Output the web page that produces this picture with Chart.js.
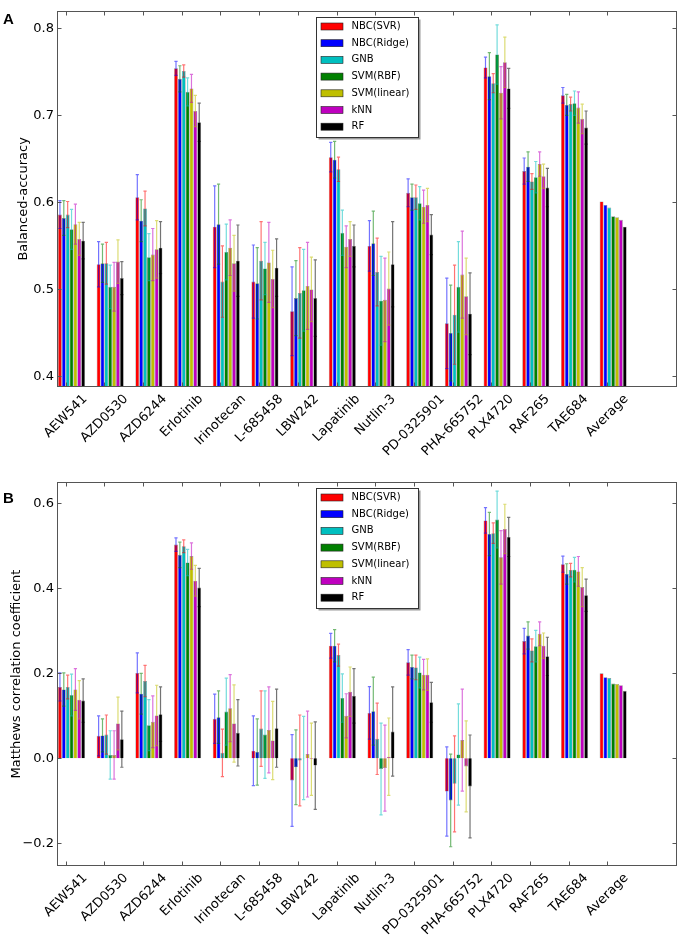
<!DOCTYPE html>
<html>
<head>
<meta charset="utf-8">
<script src="https://cdn.jsdelivr.net/npm/chart.js@4.4.1/dist/chart.umd.min.js"></script>
<style>
body { margin: 0; background: #fff; width: 680px; height: 937px; position: relative; overflow: hidden; }
canvas { position: absolute; left: 0; }
#chartA { top: 0; }
#chartB { top: 470px; }
.panel { position: absolute; left: 3px; font: bold 15px 'Liberation Sans', Arial, sans-serif; line-height: 17px; color: #000; }
</style>
</head>
<body>
<canvas id="chartA" width="680" height="470"></canvas>
<canvas id="chartB" width="680" height="467"></canvas>
<div class="panel" style="top:10px">A</div>
<div class="panel" style="top:489px">B</div>
<script>
var drugs = ['AEW541', 'AZD0530', 'AZD6244', 'Erlotinib', 'Irinotecan', 'L-685458', 'LBW242',
    'Lapatinib', 'Nutlin-3', 'PD-0325901', 'PHA-665752', 'PLX4720', 'RAF265', 'TAE684', 'Average'];
var methods = ['NBC(SVR)', 'NBC(Ridge)', 'GNB', 'SVM(RBF)', 'SVM(linear)', 'kNN', 'RF'];

// balanced accuracy, one array per method
var accNbcSvr   = [0.586, 0.529, 0.606, 0.754, 0.572, 0.509, 0.475, 0.652, 0.550, 0.611, 0.461, 0.755, 0.636, 0.723, 0.601];
var accNbcRidge = [0.582, 0.530, 0.579, 0.742, 0.575, 0.507, 0.490, 0.649, 0.553, 0.606, 0.450, 0.745, 0.641, 0.712, 0.597];
var accGnb      = [0.586, 0.530, 0.593, 0.751, 0.509, 0.533, 0.496, 0.638, 0.520, 0.606, 0.471, 0.737, 0.624, 0.713, 0.594];
var accSvmRbf   = [0.569, 0.503, 0.537, 0.727, 0.543, 0.524, 0.499, 0.565, 0.487, 0.599, 0.503, 0.770, 0.629, 0.714, 0.584];
var accSvmLin   = [0.575, 0.503, 0.540, 0.731, 0.548, 0.531, 0.504, 0.549, 0.488, 0.595, 0.517, 0.726, 0.644, 0.709, 0.583];
var accKnn      = [0.558, 0.532, 0.546, 0.705, 0.530, 0.512, 0.500, 0.558, 0.501, 0.597, 0.492, 0.761, 0.630, 0.696, 0.580];
var accRf       = [0.556, 0.513, 0.548, 0.692, 0.533, 0.525, 0.490, 0.550, 0.529, 0.563, 0.472, 0.731, 0.617, 0.686, 0.572];

var accErrNbcSvr   = [0.016, 0.026, 0.026, 0.008, 0.047, 0.042, 0.051, 0.017, 0.029, 0.016, 0.052, 0.012, 0.015, 0.009, null];
var accErrNbcRidge = [0.020, 0.022, 0.024, 0.015, 0.046, 0.041, 0.043, 0.021, 0.037, 0.015, 0.055, 0.027, 0.017, 0.012, null];
var accErrGnb      = [0.015, 0.024, 0.020, 0.007, 0.041, 0.045, 0.052, 0.014, 0.039, 0.014, 0.057, 0.011, 0.009, 0.008, null];
var accErrSvmRbf   = [0.023, 0.025, 0.027, 0.016, 0.032, 0.030, 0.047, 0.026, 0.051, 0.019, 0.052, 0.034, 0.018, 0.014, null];
var accErrSvmLin   = [0.023, 0.028, 0.030, 0.016, 0.032, 0.046, 0.050, 0.024, 0.048, 0.019, 0.050, 0.030, 0.014, 0.018, null];
var accErrKnn      = [0.019, 0.025, 0.033, 0.018, 0.032, 0.033, 0.037, 0.020, 0.042, 0.019, 0.044, 0.029, 0.014, 0.017, null];
var accErrRf       = [0.021, 0.019, 0.030, 0.022, 0.041, 0.033, 0.044, 0.024, 0.049, 0.023, 0.047, 0.023, 0.022, 0.019, null];

// Matthews correlation coefficient
var mccNbcSvr   = [0.168, 0.053, 0.201, 0.503, 0.093, 0.018, -0.052, 0.265, 0.107, 0.226, -0.078, 0.560, 0.276, 0.457, 0.200];
var mccNbcRidge = [0.162, 0.054, 0.152, 0.479, 0.097, 0.015, -0.021, 0.265, 0.111, 0.215, -0.099, 0.528, 0.289, 0.434, 0.191];
var mccGnb      = [0.168, 0.056, 0.182, 0.499, 0.013, 0.070, -0.005, 0.243, 0.046, 0.214, -0.060, 0.530, 0.254, 0.443, 0.189];
var mccSvmRbf   = [0.149, 0.008, 0.078, 0.461, 0.110, 0.056, 0.001, 0.142, -0.025, 0.202, 0.009, 0.562, 0.264, 0.444, 0.176];
var mccSvmLin   = [0.162, 0.008, 0.086, 0.476, 0.118, 0.067, 0.010, 0.100, -0.023, 0.197, 0.043, 0.473, 0.293, 0.440, 0.175];
var mccKnn      = [0.138, 0.082, 0.101, 0.418, 0.082, 0.042, -0.002, 0.157, 0.004, 0.197, -0.019, 0.540, 0.265, 0.403, 0.172];
var mccRf       = [0.136, 0.045, 0.104, 0.402, 0.060, 0.071, -0.017, 0.147, 0.063, 0.132, -0.066, 0.521, 0.240, 0.384, 0.159];

var mccErrNbcSvr   = [0.033, 0.047, 0.047, 0.016, 0.058, 0.082, 0.108, 0.029, 0.062, 0.030, 0.105, 0.030, 0.030, 0.019, null];
var mccErrNbcRidge = [0.039, 0.039, 0.048, 0.030, 0.062, 0.078, 0.088, 0.038, 0.080, 0.028, 0.109, 0.051, 0.032, 0.024, null];
var mccErrGnb      = [0.028, 0.046, 0.037, 0.015, 0.056, 0.089, 0.107, 0.026, 0.084, 0.029, 0.113, 0.024, 0.027, 0.016, null];
var mccErrSvmRbf   = [0.049, 0.057, 0.060, 0.031, 0.079, 0.103, 0.098, 0.057, 0.108, 0.036, 0.119, 0.067, 0.037, 0.029, null];
var mccErrSvmLin   = [0.049, 0.057, 0.061, 0.031, 0.079, 0.101, 0.101, 0.052, 0.101, 0.036, 0.120, 0.063, 0.028, 0.035, null];
var mccErrKnn      = [0.045, 0.062, 0.071, 0.036, 0.091, 0.092, 0.085, 0.058, 0.091, 0.037, 0.107, 0.058, 0.030, 0.046, null];
var mccErrRf       = [0.051, 0.066, 0.064, 0.045, 0.078, 0.092, 0.103, 0.064, 0.105, 0.047, 0.121, 0.046, 0.045, 0.038, null];

var accTicks = [0.4, 0.5, 0.6, 0.7, 0.8];
var mccTicks = [-0.2, 0.0, 0.2, 0.4, 0.6];

// matplotlib style colours: bar faces and the (shifted) errorbar colour cycle
var barColors = ['#ff0000', '#0000ff', '#00bfbf', '#008000', '#bfbf00', '#bf00bf', '#000000'];
var errColors = ['#0000ff', '#008000', '#ff0000', '#00bfbf', '#bf00bf', '#bfbf00', '#000000'];

var FONT = "'DejaVu Sans', 'Liberation Sans', sans-serif";

var errorBarPlugin = {
    id: 'errorBars',
    afterDatasetsDraw: function (chart) {
        var ctx = chart.ctx, a = chart.chartArea, y = chart.scales.y;
        ctx.save();
        ctx.beginPath();
        ctx.rect(a.left, a.top, a.width, a.height);
        ctx.clip();
        ctx.globalAlpha = 0.55;
        ctx.lineWidth = 1.2;
        chart.data.datasets.forEach(function (ds, k) {
            var meta = chart.getDatasetMeta(k);
            ctx.strokeStyle = ds.errorColor;
            meta.data.forEach(function (bar, i) {
                var e = ds.errors[i];
                if (e == null) return;
                var v = ds.data[i].y;
                var yt = y.getPixelForValue(v + e);
                var yb = y.getPixelForValue(v - e);
                ctx.beginPath();
                ctx.moveTo(bar.x, yt);
                ctx.lineTo(bar.x, yb);
                ctx.moveTo(bar.x - 1.6, yt);
                ctx.lineTo(bar.x + 1.6, yt);
                ctx.moveTo(bar.x - 1.6, yb);
                ctx.lineTo(bar.x + 1.6, yb);
                ctx.stroke();
            });
        });
        ctx.restore();
    }
};

var framePlugin = {
    id: 'frame',
    afterDraw: function (chart) {
        var ctx = chart.ctx, a = chart.chartArea;
        var x = chart.scales.x, y = chart.scales.y;
        ctx.save();
        ctx.strokeStyle = '#555';
        ctx.lineWidth = 1;
        var L = Math.round(a.left) - 0.5, R = Math.round(a.right) - 0.5;
        var T = Math.round(a.top) - 0.5, B = Math.round(a.bottom) + 0.5;
        ctx.strokeRect(L, T, R - L, B - T);
        ctx.beginPath();
        // inward ticks
        y.ticks.forEach(function (t) {
            var py = Math.round(y.getPixelForValue(t.value)) + 0.5;
            ctx.moveTo(L, py); ctx.lineTo(L + 4, py);
            ctx.moveTo(R, py); ctx.lineTo(R - 4, py);
        });
        x.ticks.forEach(function (t) {
            var px = Math.round(x.getPixelForValue(t.value)) + 0.5;
            ctx.moveTo(px, B); ctx.lineTo(px, B - 4);
            ctx.moveTo(px, T); ctx.lineTo(px, T + 4);
        });
        ctx.stroke();

        // rotated category labels, centred on their tick
        ctx.font = '13px ' + FONT;
        ctx.fillStyle = '#000';
        ctx.textAlign = 'center';
        ctx.textBaseline = 'middle';
        drugs.forEach(function (d, i) {
            var px = x.getPixelForValue(x.ticks[i].value);
            var w = ctx.measureText(d).width;
            var side = (w + 14) * Math.SQRT1_2;
            ctx.save();
            ctx.translate(px, a.bottom + 6 + side / 2);
            ctx.rotate(-Math.PI / 4);
            ctx.fillText(d, 0, 0);
            ctx.restore();
        });

        // legend box in the plot
        var bx = 316.5, by = Math.round(a.top) + 5.5, bw = 102, bh = 120;
        ctx.fillStyle = '#9a9a9a';
        ctx.fillRect(bx + 2, by + 2, bw, bh);
        ctx.fillStyle = '#fff';
        ctx.fillRect(bx, by, bw, bh);
        ctx.strokeStyle = '#333';
        ctx.strokeRect(bx, by, bw, bh);
        ctx.font = '10px ' + FONT;
        ctx.textAlign = 'left';
        chart.data.datasets.forEach(function (ds, k) {
            var cy = by + 9 + k * 16.7;
            ctx.fillStyle = ds.backgroundColor;
            ctx.fillRect(bx + 4.5, cy - 3.5, 22, 7);
            ctx.strokeStyle = '#222';
            ctx.lineWidth = 0.6;
            ctx.strokeRect(bx + 4.5, cy - 3.5, 22, 7);
            ctx.fillStyle = '#000';
            ctx.fillText(ds.label, bx + 35, cy);
        });
        ctx.restore();
    }
};

function makeChart(id, values, errors, yMin, yMax, yTicks, yTitle, titlePad, padTop, axisHeight) {
    var datasets = methods.map(function (m, k) {
        return {
            label: m,
            data: values[k].map(function (v, i) { return { x: i + 0.35, y: v }; }),
            errors: errors[k],
            errorColor: errColors[k],
            backgroundColor: barColors[k],
            borderColor: 'rgba(0,0,0,0.45)',
            borderWidth: 0.6,
            categoryPercentage: 0.7,
            barPercentage: 1.0
        };
    });
    return new Chart(document.getElementById(id), {
        type: 'bar',
        data: { datasets: datasets },
        options: {
            responsive: false,
            animation: false,
            events: [],
            devicePixelRatio: 1,
            layout: { padding: { top: padTop, right: 3, left: 0, bottom: 0 } },
            plugins: { legend: { display: false }, tooltip: { enabled: false } },
            scales: {
                x: {
                    type: 'linear',
                    min: 0,
                    max: 16,
                    offset: false,
                    afterBuildTicks: function (s) {
                        s.ticks = drugs.map(function (d, i) { return { value: i + 0.2 }; });
                    },
                    ticks: { display: false },
                    grid: { display: false, drawTicks: false },
                    border: { display: false },
                    afterFit: function (s) { s.height = axisHeight; }
                },
                y: {
                    type: 'linear',
                    min: yMin,
                    max: yMax,
                    afterBuildTicks: function (s) {
                        s.ticks = yTicks.map(function (v) { return { value: v }; });
                    },
                    ticks: {
                        color: '#000',
                        padding: 4,
                        font: { family: FONT, size: 13 },
                        callback: function (v) { return v.toFixed(1).replace('-', '\u2212'); }
                    },
                    grid: { display: false, drawTicks: false },
                    border: { display: false },
                    title: {
                        display: true,
                        text: yTitle,
                        color: '#000',
                        font: { family: FONT, size: 13 },
                        padding: { top: titlePad, bottom: 0 }
                    },
                    afterFit: function (s) { s.width = 58; }
                }
            }
        },
        plugins: [errorBarPlugin, framePlugin]
    });
}

var chartA = makeChart('chartA',
    [accNbcSvr, accNbcRidge, accGnb, accSvmRbf, accSvmLin, accKnn, accRf],
    [accErrNbcSvr, accErrNbcRidge, accErrGnb, accErrSvmRbf, accErrSvmLin, accErrKnn, accErrRf],
    0.389, 0.819, accTicks, 'Balanced-accuracy', 16, 3, 84);

var chartB = makeChart('chartB',
    [mccNbcSvr, mccNbcRidge, mccGnb, mccSvmRbf, mccSvmLin, mccKnn, mccRf],
    [mccErrNbcSvr, mccErrNbcRidge, mccErrGnb, mccErrSvmRbf, mccErrSvmLin, mccErrKnn, mccErrRf],
    -0.251, 0.648, mccTicks, 'Matthews correlation coefficient', 9, 13, 72);
</script>
</body>
</html>
